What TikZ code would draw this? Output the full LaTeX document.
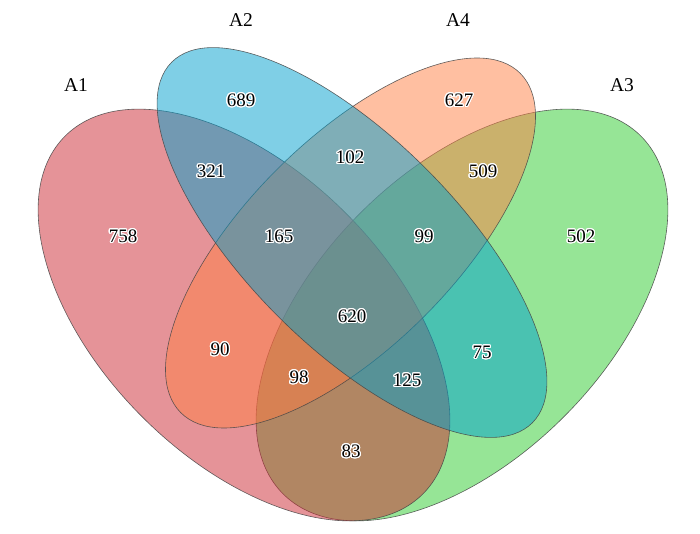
\documentclass[tikz,border=0pt]{standalone}
\usepackage{fontspec}
\setmainfont{Liberation Serif}
\usepackage{contour}
\contourlength{1.1pt}
\contournumber{24}
\definecolor{cAone}{RGB}{204,40,50}
\definecolor{cAtwo}{RGB}{0,159,205}
\definecolor{cAthree}{RGB}{46,204,46}
\definecolor{cAfour}{RGB}{255,127,68}
\definecolor{edgegray}{RGB}{70,70,70}
\begin{document}
\begin{tikzpicture}[x=1pt,y=1pt,
  setshape/.style={draw=edgegray, line width=0.6pt, fill opacity=0.5, draw opacity=0.85},
  num/.style={font=\fontsize{19}{19}\selectfont, inner sep=0pt, text=black},
  setlabel/.style={font=\fontsize{19.5}{19.5}\selectfont, inner sep=0pt, text=black}]
\useasboundingbox (0,0) rectangle (700,533);
% sets (drawing order A3, A1, A4, A2)
\path[setshape, fill=cAthree, rotate around={45:(462,218)}] (462,218) ellipse [x radius=253, y radius=144];
\path[setshape, fill=cAone, rotate around={-45:(244,218)}] (244,218) ellipse [x radius=253, y radius=144];
\path[setshape, fill=cAfour, rotate around={45:(350.5,290)}] (350.5,290) ellipse [x radius=240, y radius=104];
\path[setshape, fill=cAtwo, rotate around={-45:(352,290.5)}] (352,290.5) ellipse [x radius=255, y radius=104.5];
% set labels
\node[setlabel] (lA1) at (76,448) {A1};
\node[setlabel] (lA2) at (241,513) {A2};
\node[setlabel] (lA4) at (458,513) {A4};
\node[setlabel] (lA3) at (622,448) {A3};
% region counts
\node[num] (n689) at (241,432) {\contour{white}{689}};
\node[num] (n627) at (459,432) {\contour{white}{627}};
\node[num] (n321) at (211,361) {\contour{white}{321}};
\node[num] (n102) at (350,375) {\contour{white}{102}};
\node[num] (n509) at (483,361) {\contour{white}{509}};
\node[num] (n758) at (123,296) {\contour{white}{758}};
\node[num] (n165) at (279,296) {\contour{white}{165}};
\node[num] (n99) at (424,296) {\contour{white}{99}};
\node[num] (n502) at (581,296) {\contour{white}{502}};
\node[num] (n620) at (352,216) {\contour{white}{620}};
\node[num] (n90) at (220,183) {\contour{white}{90}};
\node[num] (n75) at (482,180) {\contour{white}{75}};
\node[num] (n98) at (299,155) {\contour{white}{98}};
\node[num] (n125) at (407,152) {\contour{white}{125}};
\node[num] (n83) at (351,81) {\contour{white}{83}};
\end{tikzpicture}
\end{document}
